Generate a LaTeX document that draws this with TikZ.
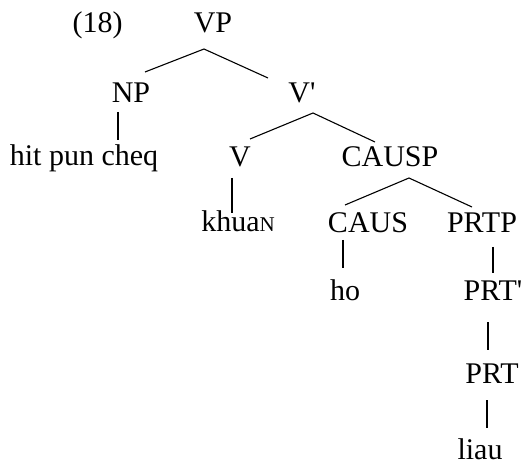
\documentclass[tikz,border=0pt]{standalone}
\usepackage{fontspec}
\setmainfont{Liberation Serif}
\usetikzlibrary{calc}
\begin{document}
\begin{tikzpicture}[x=1pt,y=-1pt,
  lbl/.style={anchor=base,inner sep=0pt,font=\fontsize{30}{36}\selectfont},
  branch/.style={line width=1.1pt}]
\useasboundingbox (0,0) rectangle (525,465);
% labels (x = centre, y = baseline, measured downwards)
\node[lbl] (ex)    at (97.5,33) {(18)};
\node[lbl] (VP)    at (213,33)  {VP};
\node[lbl] (NP)    at (131,103) {NP};
\node[lbl] (Vbar)  at (302,103) {V\textquotesingle};
\node[lbl] (hit)   at (84,166)  {hit pun cheq};
\node[lbl] (V)     at (240,167) {V};
\node[lbl] (CAUSP) at (390,167) {CAUSP};
\node[lbl] (khua)  at (238,232) {khua{\fontsize{21}{21}\selectfont N}};
\node[lbl] (CAUS)  at (368,233) {CAUS};
\node[lbl] (PRTP)  at (482,233) {PRTP};
\node[lbl] (ho)    at (345,300) {ho};
\node[lbl] (PRTbar) at (493,300) {PRT\textquotesingle};
\node[lbl] (PRT)   at (492,383) {PRT};
\node[lbl] (liau)  at (480,459) {liau};
% branches
\draw[branch] ($(NP.base)+(14,-31)$) -- ($(VP.base)+(-9,16)$) -- ($(Vbar.base)+(-34,-25)$);
\draw[branch] ($(NP.base)+(-13,9)$) -- ($(hit.base)+(34,-26)$);
\draw[branch] ($(V.base)+(10,-28)$) -- ($(Vbar.base)+(11,10)$) -- ($(CAUSP.base)+(-15,-25)$);
\draw[branch] ($(V.base)+(-8,11)$) -- ($(khua.base)+(-6,-19)$);
\draw[branch] ($(CAUS.base)+(-23,-28)$) -- ($(CAUSP.base)+(19,11)$) -- ($(PRTP.base)+(-10,-26)$);
\draw[branch] ($(CAUS.base)+(-25,7)$) -- ($(ho.base)+(-2,-32)$);
\draw[branch] ($(PRTP.base)+(11,14)$) -- ($(PRTbar.base)+(0,-27)$);
\draw[branch] ($(PRTbar.base)+(-5,22)$) -- ($(PRT.base)+(-4,-33)$);
\draw[branch] ($(PRT.base)+(-5,17)$) -- ($(liau.base)+(7,-31)$);
\end{tikzpicture}
\end{document}
